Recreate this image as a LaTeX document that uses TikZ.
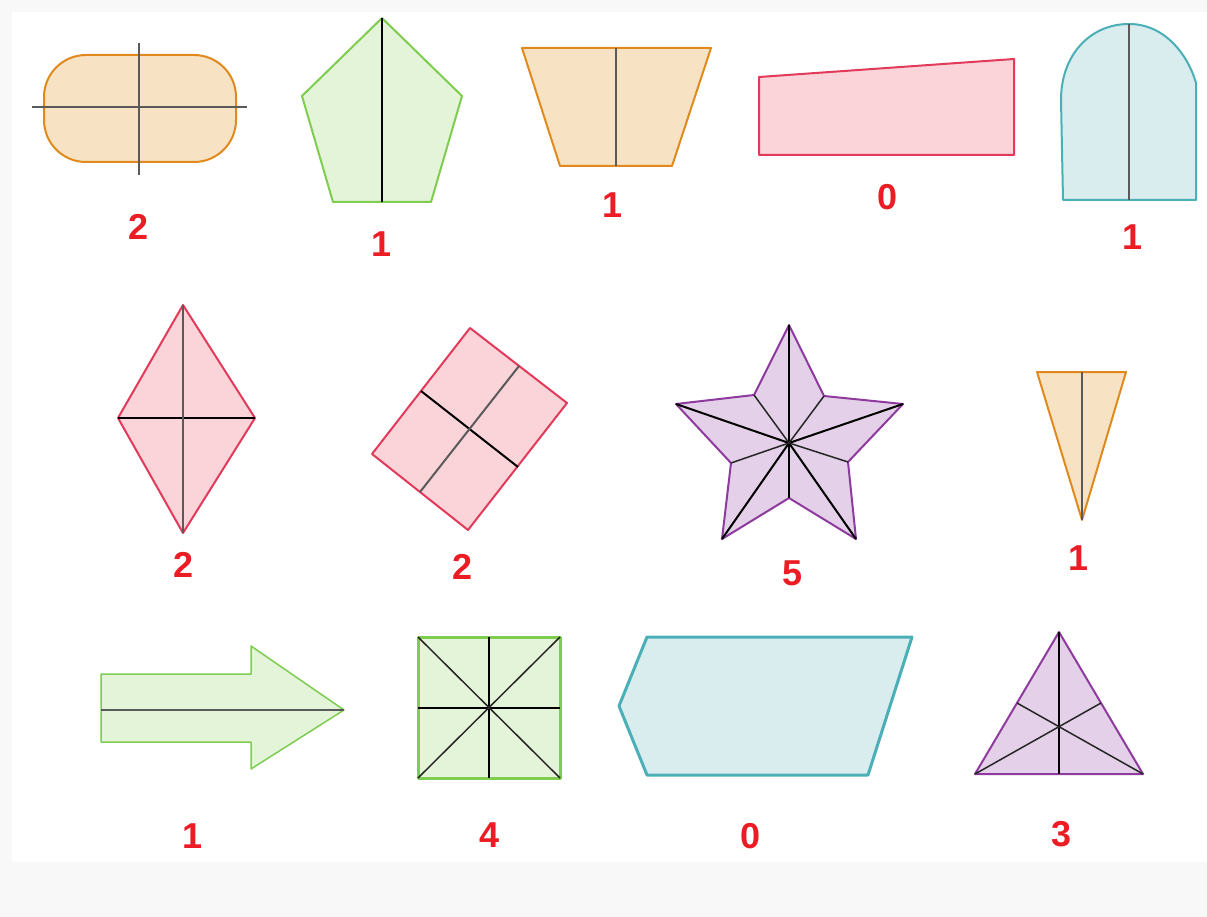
\documentclass[tikz,border=0pt]{standalone}
\usepackage{fontspec}
\setmainfont{Liberation Sans}
\definecolor{bggray}{HTML}{F8F8F8}
\definecolor{labred}{HTML}{EC1C24}
\definecolor{orfill}{HTML}{F8E2C4}
\definecolor{orline}{HTML}{E08A1E}
\definecolor{grfill}{HTML}{E4F4D8}
\definecolor{grline}{HTML}{7ECC50}
\definecolor{pkfill}{HTML}{FAD4D8}
\definecolor{pkline}{HTML}{E23A5A}
\definecolor{tlfill}{HTML}{D9EDEF}
\definecolor{tlline}{HTML}{4AAFB6}
\definecolor{pufill}{HTML}{E4D0E8}
\definecolor{puline}{HTML}{8E3A9E}
\definecolor{axgray}{HTML}{5A5A5A}
\tikzset{
  count/.style={font=\fontsize{36}{36}\selectfont\bfseries, text=labred, inner sep=0pt},
  orshape/.style={fill=orfill, draw=orline, line width=2pt, line join=round},
  grshape/.style={fill=grfill, draw=grline, line width=2pt, line join=round},
  pkshape/.style={fill=pkfill, draw=pkline, line width=2pt, line join=round},
  tlshape/.style={fill=tlfill, draw=tlline, line width=2pt, line join=round},
  pushape/.style={fill=pufill, draw=puline, line width=2pt, line join=round},
  axisg/.style={draw=axgray, line width=2pt},
  axisk/.style={draw=black, line width=2pt},
  axist/.style={draw=black!85, line width=1.5pt}
}
\begin{document}
\begin{tikzpicture}[x=1pt,y=-1pt]
\useasboundingbox (0,0) rectangle (1207,917);
\fill[bggray] (0,0) rectangle (1207,917);
\fill[white] (12,12) rectangle (1207,862);

% 1 rounded rectangle
\draw[orshape, rounded corners=42pt] (44,55) rectangle (236,162);
\draw[axisg] (32,107) -- (247,107);
\draw[axisg] (139,43) -- (139,175);
\node[count] (l1) at (139,227) {2};

% 2 pentagon
\draw[grshape] (382,18) -- (462,96) -- (431,202) -- (333,202) -- (302,96) -- cycle;
\draw[axisk] (382,18) -- (382,202);
\node[count] (l2) at (382,244) {1};

% 3 trapezoid
\draw[orshape] (522,48) -- (711,48) -- (672,166) -- (560,166) -- cycle;
\draw[axisg] (616,48) -- (616,166);
\node[count] (l3) at (613,205) {1};

% 4 quadrilateral
\draw[pkshape] (759,77) -- (1014,59) -- (1014,155) -- (759,155) -- cycle;
\node[count] (l4) at (887,197) {0};

% 5 arch
\draw[tlshape] (1063,200) -- (1061,100) .. controls (1061,55) and (1090,24) .. (1129,24)
  .. controls (1165,24) and (1188,55) .. (1196,83) -- (1196,200) -- cycle;
\draw[axisg] (1129,24) -- (1129,200);
\node[count] (l5) at (1132,237) {1};

% 6 rhombus
\draw[pkshape] (183,305) -- (255,418) -- (183,533) -- (118,418) -- cycle;
\draw[axisk] (118,418) -- (255,418);
\draw[axisg] (183,305) -- (183,533);
\node[count] (l6) at (184,565) {2};

% 7 rotated rectangle
\draw[pkshape] (470,328) -- (567,403) -- (468,530) -- (372,454) -- cycle;
\draw[axisk] (421,391) -- (518,467);
\draw[axisg] (519,366) -- (420,492);
\node[count] (l7) at (463,567) {2};

% 8 star
\coordinate (sc) at (789,443);
\draw[pushape] (789,325) -- (824,396) -- (903,404) -- (848,462) -- (856,539) -- (789,498)
  -- (722,539) -- (731,463) -- (676,404) -- (754,395) -- cycle;
\foreach \p in {(789,325),(903,404),(856,539),(722,539),(676,404),(789,498)}
  \draw[axisk] (sc) -- \p;
\foreach \p in {(824,396),(848,462),(731,463),(754,395)}
  \draw[axist] (sc) -- \p;
\node[count] (l8) at (793,573) {5};

% 9 thin triangle
\draw[orshape] (1037,372) -- (1126,372) -- (1082,520) -- cycle;
\draw[axisg] (1082,372) -- (1082,520);
\node[count] (l9) at (1078,558) {1};

% 10 arrow
\draw[grshape, line width=1.5pt] (101,674) -- (251,674) -- (251,646) -- (344,710) -- (251,769)
  -- (251,742) -- (101,742) -- cycle;
\draw[axisg] (101,710) -- (344,710);
\node[count] (l10) at (193,836) {1};

% 11 square
\draw[grshape, line width=3pt] (418,637) rectangle (560,778);
\draw[axisk] (489,637) -- (489,778);
\draw[axisk] (418,708) -- (560,708);
\draw[axist] (418,637) -- (560,778);
\draw[axist] (560,637) -- (418,778);
\node[count] (l11) at (490,835) {4};

% 12 hexagon
\draw[tlshape, line width=3pt] (647,637) -- (912,637) -- (868,775) -- (647,775) -- (619,706) -- cycle;
\node[count] (l12) at (751,836) {0};

% 13 equilateral triangle
\draw[pushape] (1059,632) -- (1143,774) -- (975,774) -- cycle;
\draw[axisk] (1059,632) -- (1059,774);
\draw[axist] (975,774) -- (1101,703);
\draw[axist] (1143,774) -- (1017,703);
\node[count] (l13) at (1061,834) {3};
\end{tikzpicture}
\end{document}
